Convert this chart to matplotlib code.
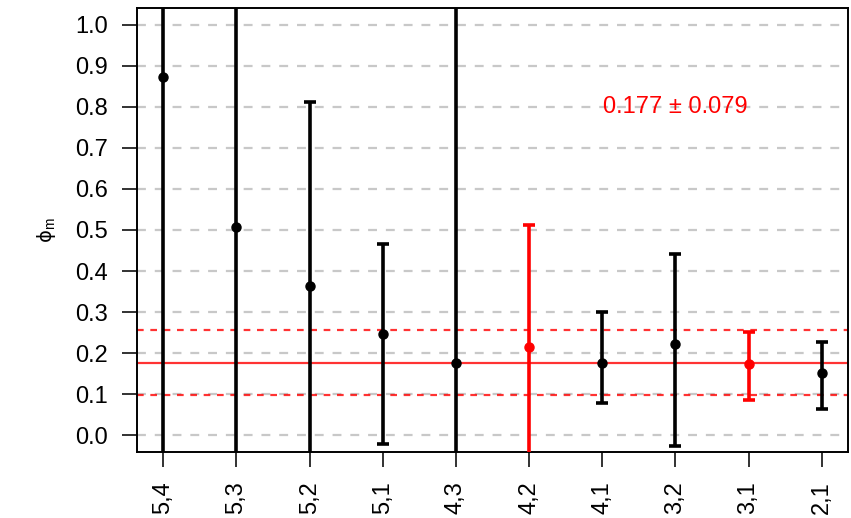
import matplotlib
matplotlib.use("Agg")
import matplotlib.pyplot as plt
import numpy as np

plt.rcParams['font.family'] = ['Liberation Sans', 'DejaVu Sans']
plt.rcParams['mathtext.fontset'] = 'custom'
plt.rcParams['mathtext.rm'] = 'Liberation Sans'
plt.rcParams['mathtext.it'] = 'Liberation Sans'

labels = ["5,4", "5,3", "5,2", "5,1", "4,3", "4,2", "4,1", "3,2", "3,1", "2,1"]
means = [0.872, 0.507, 0.363, 0.246, 0.177, 0.214, 0.176, 0.223, 0.173, 0.152]
lower = [-1.0, -1.0, -1.0, -0.021, -1.0, -1.0, 0.079, -0.027, 0.085, 0.064]
upper = [2.0, 2.0, 0.812, 0.465, 2.0, 0.512, 0.300, 0.441, 0.252, 0.228]
colors = ["black", "black", "black", "black", "black", "red", "black", "black", "red", "black"]
pooled_mean = 0.177
pooled_err = 0.079
yticks = [0.0, 0.1, 0.2, 0.3, 0.4, 0.5, 0.6, 0.7, 0.8, 0.9, 1.0]

fig = plt.figure(figsize=(8.51, 5.18), dpi=100)
ax = fig.add_axes([0.161, 0.1274, 0.8355, 0.8572])

x = np.arange(1, len(labels) + 1)
ax.set_xlim(0.64, 10.36)
ax.set_ylim(-0.041, 1.041)

for yv in yticks:
    ax.axhline(yv, color="#c8c8c8", lw=1.6, ls=(0, (4, 4)), zorder=1)

ax.axhline(pooled_mean, color="red", lw=1.6, alpha=0.8, zorder=2)
ax.axhline(pooled_mean + pooled_err, color="red", lw=1.6, alpha=0.8, ls=(0, (3, 3)), zorder=2)
ax.axhline(pooled_mean - pooled_err, color="red", lw=1.6, alpha=0.8, ls=(0, (3, 3)), zorder=2)

for xi, m, lo, hi, c in zip(x, means, lower, upper, colors):
    ax.errorbar([xi], [m], yerr=[[m - lo], [hi - m]], fmt="o", color=c,
                ecolor=c, elinewidth=2.6, capsize=4.5, capthick=2.6,
                markersize=6.5, zorder=3)

ax.text(8.0, 0.80, f"{pooled_mean:.3f} \u00b1 {pooled_err:.3f}", color="red",
        fontsize=17, ha="center", va="center")

ax.set_xticks(x)
ax.set_xticklabels(labels, rotation=90, fontsize=17)
ax.set_yticks(yticks)
ax.set_yticklabels([f"{v:.1f}" for v in yticks], fontsize=17)
ax.tick_params(axis="both", length=11, width=1.3, pad=10, color="#222222")
ax.set_ylabel("\u03d5$_\\mathrm{m}$", fontsize=14, labelpad=12,
              family=['DejaVu Sans'])

for s in ax.spines.values():
    s.set_linewidth(1.4)

fig.savefig("out.png", dpi=100)
